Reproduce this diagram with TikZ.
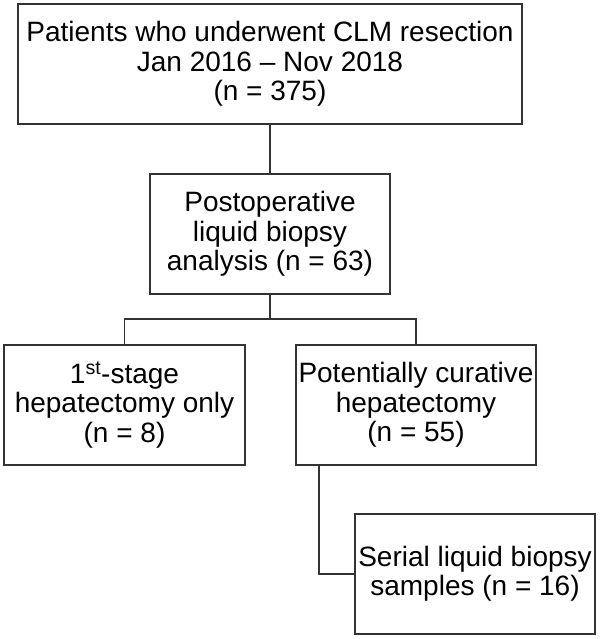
\documentclass[tikz,border=0pt]{standalone}
\usepackage{fontspec}
\setmainfont{Liberation Sans}
\begin{document}
\begin{tikzpicture}[x=1pt,y=-1pt,
  box/.style={draw=black!80, line width=1.8pt, rectangle, align=center, inner sep=0pt,
    minimum height=120pt, font=\fontsize{28}{29.5}\selectfont, text=black},
  conn/.style={draw=black!80, line width=1.8pt}]
\useasboundingbox (0,0) rectangle (600,639);
\node[box, minimum width=504pt] (top) at (270,64) {Patients who underwent CLM resection\\Jan 2016 -- Nov 2018\\(n = 375)};
\node[box, minimum width=240pt] (post) at (270,234) {Postoperative\\liquid biopsy\\analysis (n = 63)};
\node[box, minimum width=241pt] (first) at (124.5,405) {1\textsuperscript{st}-stage\\hepatectomy only\\(n = 8)};
\node[box, minimum width=240pt] (cur) at (416,405) {Potentially curative\\hepatectomy\\(n = 55)};
\node[box, minimum width=240pt] (ser) at (475,574) {Serial liquid biopsy\\samples (n = 16)};
\coordinate (j) at (270,319);
\draw[conn] (top.south) -- (post.north);
\draw[conn] (post.south) -- (j);
\draw[conn] (first.north) -- (first.north |- j) -- (cur.north |- j) -- (cur.north);
\draw[conn] ([xshift=-97pt]cur.south) |- (ser.west);
\end{tikzpicture}
\end{document}
